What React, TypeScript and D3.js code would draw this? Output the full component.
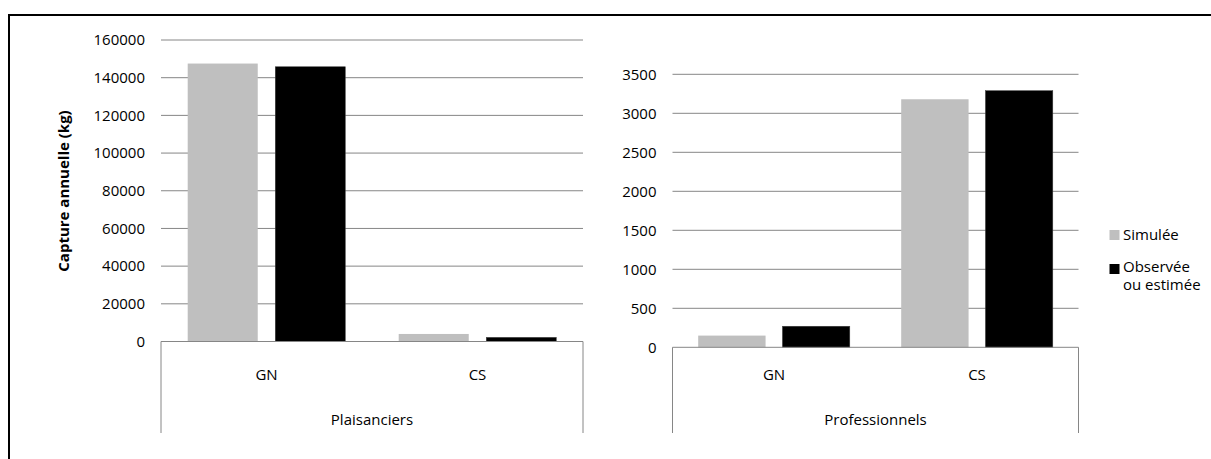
import React from "react";
import * as d3 from "d3";

const categories = ["GN", "CS"];
const series = ["Simulée", "Observée ou estimée"];
const leftGroup = "Plaisanciers";
const rightGroup = "Professionnels";
const plaisSimulee = [147500, 4000];
const plaisObservee = [145800, 2200];
const proSimulee = [150, 3180];
const proObservee = [270, 3290];
const leftTicks = [0, 20000, 40000, 60000, 80000, 100000, 120000, 140000, 160000];
const rightTicks = [0, 500, 1000, 1500, 2000, 2500, 3000, 3500];
const colors = ["#bfbfbf", "#000000"];

const FONT = "'Open Sans', sans-serif";
const FS = 15;
const GRID = "#868686";

function Panel({ x0, x1, yScale, ticks, sim, obs, group }: any) {
  const xOuter = d3.scaleBand<string>().domain(categories).range([x0, x1]).padding(0);
  const xInner = d3
    .scaleBand<string>()
    .domain(series)
    .range([0, xOuter.bandwidth()])
    .paddingInner(0.2)
    .paddingOuter(0.305);
  const y0 = yScale(0);
  const vals = [sim, obs];
  return (
    <g>
      {ticks.map((t: number) => (
        <g key={t}>
          {t !== 0 && (
            <line x1={x0} x2={x1} y1={yScale(t)} y2={yScale(t)} stroke={GRID} strokeWidth={1} />
          )}
          <text
            x={x0 - 16}
            y={yScale(t)}
            dy="0.35em"
            textAnchor="end"
            fontFamily={FONT}
            fontSize={FS}
            fill="#000"
          >
            {t}
          </text>
        </g>
      ))}
      {categories.map((c, ci) =>
        series.map((s, si) => {
          const v = vals[si][ci];
          const bx = (xOuter(c) as number) + (xInner(s) as number);
          return (
            <rect
              key={c + s}
              x={bx}
              y={yScale(v)}
              width={xInner.bandwidth()}
              height={y0 - yScale(v)}
              fill={colors[si]}
              stroke={si === 1 ? "#404040" : "none"}
              strokeWidth={0.5}
            />
          );
        })
      )}
      <line x1={x0} x2={x1} y1={y0} y2={y0} stroke={GRID} strokeWidth={1} />
      <line x1={x0} x2={x0} y1={y0} y2={433} stroke={GRID} strokeWidth={1} />
      <line x1={x1} x2={x1} y1={y0} y2={433} stroke={GRID} strokeWidth={1} />
      {categories.map((c) => (
        <text
          key={c}
          x={(xOuter(c) as number) + xOuter.bandwidth() / 2}
          y={375}
          dy="0.35em"
          textAnchor="middle"
          fontFamily={FONT}
          fontSize={FS}
          fill="#000"
        >
          {c}
        </text>
      ))}
      <text
        x={(x0 + x1) / 2}
        y={420}
        dy="0.35em"
        textAnchor="middle"
        fontFamily={FONT}
        fontSize={FS}
        fill="#000"
      >
        {group}
      </text>
    </g>
  );
}

export default function App() {
  const yLeft = d3.scaleLinear().domain([0, 160000]).range([341.5, 40]);
  const yRight = d3.scaleLinear().domain([0, 3500]).range([347.3, 74.3]);
  return (
    <svg
      width={1211}
      height={459}
      style={{ position: "absolute", left: 0, top: 0, background: "#fff" }}
    >
      <rect x={0} y={0} width={1211} height={459} fill="#fff" />
      <rect x={9} y={15} width={1400} height={700} fill="none" stroke="#000" strokeWidth={2} />
      <Panel
        x0={161}
        x1={583}
        yScale={yLeft}
        ticks={leftTicks}
        sim={plaisSimulee}
        obs={plaisObservee}
        group={leftGroup}
      />
      <Panel
        x0={672.5}
        x1={1078.5}
        yScale={yRight}
        ticks={rightTicks}
        sim={proSimulee}
        obs={proObservee}
        group={rightGroup}
      />
      <text
        transform="translate(64,191) rotate(-90)"
        textAnchor="middle"
        dy="0.35em"
        fontFamily={FONT}
        fontSize={FS}
        fontWeight="bold"
        fill="#000"
      >
        Capture annuelle (kg)
      </text>
      <rect x={1109.5} y={230} width={10} height={10} fill={colors[0]} />
      <text x={1123} y={235} dy="0.35em" fontFamily={FONT} fontSize={FS} fill="#000">
        Simulée
      </text>
      <rect x={1109.5} y={264} width={10} height={10} fill={colors[1]} />
      <text x={1123} y={266.5} dy="0.35em" fontFamily={FONT} fontSize={FS} fill="#000">
        Observée
      </text>
      <text x={1123} y={285} dy="0.35em" fontFamily={FONT} fontSize={FS} fill="#000">
        ou estimée
      </text>
    </svg>
  );
}
